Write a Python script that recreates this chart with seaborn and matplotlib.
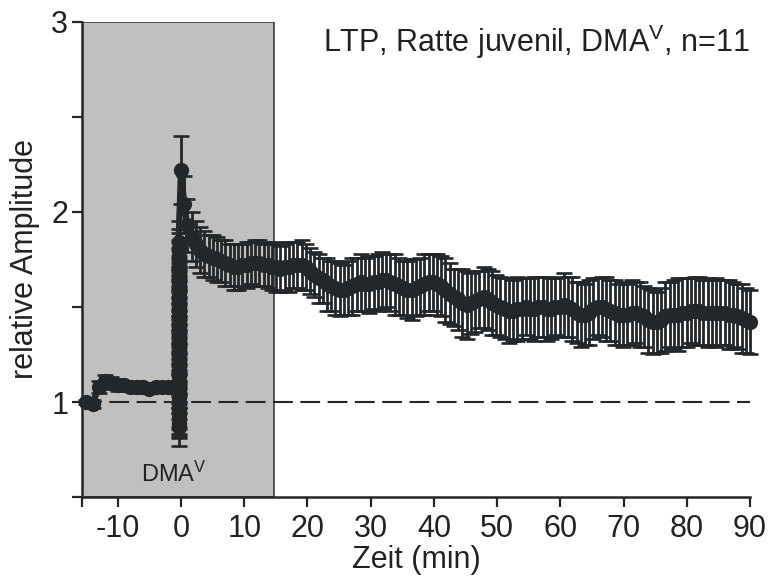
import numpy as np
import pandas as pd
import matplotlib
matplotlib.use("Agg")
import matplotlib.pyplot as plt
import seaborn as sns
from matplotlib.ticker import FixedLocator, FixedFormatter

# ---- data -------------------------------------------------------------
# baseline, one sweep per minute before induction
base_time = [-15, -14, -13, -12, -11, -10, -9, -8, -7, -6, -5, -4, -3, -2, -1]
base_amp = [1.00, 0.99, 1.08, 1.11, 1.10, 1.09, 1.09, 1.08, 1.08, 1.08,
            1.07, 1.08, 1.08, 1.08, 1.08]
base_err = [0.01, 0.02, 0.03, 0.03, 0.03, 0.03, 0.02, 0.02, 0.03, 0.02,
            0.02, 0.02, 0.02, 0.02, 0.03]

# responses recorded during the induction train
train_time = -0.4
train_amp = [0.87, 0.89, 0.91, 0.93, 0.95, 0.97, 1.00, 1.02, 1.04, 1.06,
             1.08, 1.10, 1.13, 1.15, 1.17, 1.19, 1.21, 1.24, 1.26, 1.28,
             1.30, 1.32, 1.35, 1.37, 1.39, 1.41, 1.43, 1.46, 1.48, 1.50,
             1.52, 1.54, 1.57, 1.59, 1.61, 1.63, 1.65, 1.68, 1.70, 1.72,
             1.74, 1.76, 1.79, 1.81, 1.84]
train_err = [0.10, 0.08, 0.09, 0.10, 0.09, 0.10, 0.09, 0.08, 0.10, 0.09,
             0.09, 0.10, 0.09, 0.10, 0.09, 0.08, 0.10, 0.09, 0.10, 0.09,
             0.10, 0.09, 0.10, 0.08, 0.09, 0.10, 0.09, 0.08, 0.10, 0.09,
             0.09, 0.10, 0.09, 0.10, 0.09, 0.08, 0.10, 0.09, 0.10, 0.09,
             0.10, 0.09, 0.10, 0.10, 0.11]

# first sweeps right after induction
peak_time = [0.0, 0.5]
peak_amp = [2.22, 2.04]
peak_err = [0.18, 0.15]

# potentiated phase, 1 to 90 min
post_amp = [
    1.93, 1.87, 1.83, 1.80, 1.78, 1.77, 1.76, 1.75, 1.74, 1.73, 1.72, 1.71, 1.71, 1.72, 1.72,
    1.73, 1.73, 1.73, 1.72, 1.72, 1.71, 1.71, 1.70, 1.71, 1.71, 1.72, 1.72, 1.72, 1.71, 1.69,
    1.67, 1.65, 1.64, 1.62, 1.61, 1.60, 1.59, 1.59, 1.60, 1.61, 1.62, 1.63, 1.62, 1.62, 1.63,
    1.63, 1.64, 1.64, 1.63, 1.62, 1.61, 1.60, 1.59, 1.59, 1.60, 1.61, 1.62, 1.63, 1.63, 1.62,
    1.61, 1.59, 1.57, 1.55, 1.54, 1.52, 1.51, 1.52, 1.53, 1.54, 1.55, 1.54, 1.52, 1.51, 1.50,
    1.49, 1.48, 1.48, 1.49, 1.49, 1.50, 1.49, 1.49, 1.50, 1.50, 1.49, 1.49, 1.50, 1.50, 1.51,
    1.50, 1.49, 1.47, 1.46, 1.46, 1.47, 1.49, 1.50, 1.50, 1.49, 1.48, 1.47, 1.46, 1.46, 1.46,
    1.47, 1.47, 1.46, 1.45, 1.43, 1.42, 1.42, 1.43, 1.45, 1.46, 1.46, 1.46, 1.47, 1.47, 1.48,
    1.48, 1.48, 1.47, 1.47, 1.47, 1.47, 1.47, 1.47, 1.46, 1.46, 1.45, 1.44, 1.43, 1.42,
]
post_err = [
    0.14, 0.13, 0.12, 0.12, 0.12, 0.11, 0.12, 0.12, 0.11, 0.12, 0.11, 0.12, 0.12, 0.11, 0.12,
    0.11, 0.12, 0.12, 0.11, 0.12, 0.12, 0.13, 0.12, 0.12, 0.13, 0.12, 0.12, 0.13, 0.12, 0.12,
    0.12, 0.13, 0.12, 0.14, 0.13, 0.14, 0.14, 0.13, 0.14, 0.15, 0.14, 0.15, 0.14, 0.15, 0.14,
    0.15, 0.15, 0.14, 0.15, 0.16, 0.15, 0.14, 0.15, 0.16, 0.15, 0.15, 0.16, 0.15, 0.15, 0.16,
    0.16, 0.17, 0.16, 0.15, 0.16, 0.18, 0.18, 0.16, 0.16, 0.15, 0.16, 0.16, 0.17, 0.16, 0.16,
    0.16, 0.17, 0.16, 0.17, 0.16, 0.15, 0.16, 0.17, 0.16, 0.16, 0.17, 0.16, 0.15, 0.16, 0.17,
    0.16, 0.17, 0.16, 0.17, 0.16, 0.17, 0.16, 0.15, 0.16, 0.17, 0.16, 0.17, 0.16, 0.17, 0.16,
    0.17, 0.16, 0.17, 0.16, 0.17, 0.17, 0.16, 0.17, 0.18, 0.17, 0.18, 0.19, 0.18, 0.18, 0.17,
    0.18, 0.18, 0.17, 0.18, 0.17, 0.18, 0.17, 0.17, 0.18, 0.17, 0.17, 0.18, 0.17, 0.17,
]
post_time = np.linspace(1, 90, len(post_amp))

x_ticks = [-10, 0, 10, 20, 30, 40, 50, 60, 70, 80, 90]
y_ticks = [0.5, 1.0, 1.5, 2.0, 2.5, 3.0]
y_tick_labels = ["", "1", "", "2", "", "3"]

# ---- assemble one continuous trace --------------------------------------
time = np.concatenate([base_time, [train_time] * len(train_amp), peak_time, post_time])
amp = np.concatenate([base_amp, train_amp, peak_amp, post_amp])
err = np.concatenate([base_err, train_err, peak_err, post_err])
df = pd.DataFrame({"Zeit": time, "Amplitude": amp, "SEM": err})

# ---- style ----------------------------------------------------------------
sns.set_theme(style="ticks")
plt.rcParams["font.family"] = ["Liberation Sans", "DejaVu Sans"]
plt.rcParams["mathtext.default"] = "regular"

dark = "#232729"
text_col = "#222222"
x_left, x_right = -15.66, 90

fig = plt.figure(figsize=(7.71, 5.83), dpi=100)
ax = fig.add_axes([0.1064, 0.1475, 0.8664, 0.8148])

# drug application window
ax.axvspan(x_left, 14.7, facecolor="#c1c0be", edgecolor="#3c3c3c",
           linewidth=1.2, zorder=0)
# baseline reference
ax.axhline(1.0, color=dark, linewidth=1.5, linestyle=(0, (9.5, 3.6)), zorder=1)

ax.errorbar(df["Zeit"], df["Amplitude"], yerr=df["SEM"], fmt="none",
            ecolor=dark, elinewidth=2.0, capsize=5.6, capthick=1.9,
            zorder=2, clip_on=False)
sns.lineplot(data=df, x="Zeit", y="Amplitude", estimator=None, sort=False,
             marker="o", markersize=11, markeredgewidth=0, color=dark,
             linewidth=4.5, ax=ax, zorder=3, clip_on=False)

ax.set_xlim(x_left, x_right)
ax.set_ylim(0.5, 3.0)
ax.xaxis.set_major_locator(FixedLocator([x_left] + x_ticks))
ax.xaxis.set_major_formatter(FixedFormatter([""] + [str(v) for v in x_ticks]))
ax.yaxis.set_major_locator(FixedLocator(y_ticks))
ax.yaxis.set_major_formatter(FixedFormatter(y_tick_labels))

for side in ("top", "right"):
    ax.spines[side].set_visible(False)
for side in ("left", "bottom"):
    ax.spines[side].set_linewidth(1.8)
    ax.spines[side].set_color(dark)

ax.tick_params(axis="both", direction="out", width=1.6, color=dark,
               labelsize=22, labelcolor=text_col)
ax.tick_params(axis="x", length=7, pad=5)
ax.tick_params(axis="y", length=7, pad=3)

ax.set_xlabel("Zeit (min)", fontsize=22, color=text_col, labelpad=1)
ax.set_ylabel("relative Amplitude", fontsize=22, color=text_col, labelpad=8)

ax.text(x_right, 2.84, "LTP, Ratte juvenil, DMA$^{V}$, n=11", ha="right",
        va="baseline", fontsize=22, color=text_col)
ax.text(-1.1, 0.58, "DMA$^{V}$", ha="center", va="baseline",
        fontsize=17, color=text_col)

fig.savefig("out.png", dpi=100)
